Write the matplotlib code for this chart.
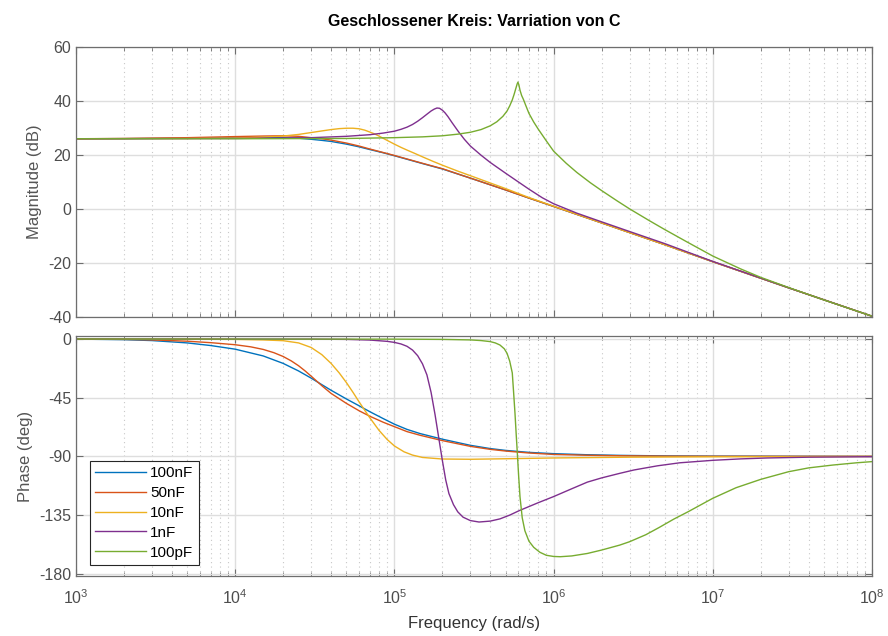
import numpy as np
import matplotlib
matplotlib.use('Agg')
import matplotlib.pyplot as plt
from matplotlib.ticker import LogLocator, NullFormatter

plt.rcParams['font.family'] = ['Liberation Sans', 'DejaVu Sans']
plt.rcParams['mathtext.default'] = 'regular'
plt.rcParams['axes.unicode_minus'] = False

# values (frequency in rad/s)
labels = ['100nF', '50nF', '10nF', '1nF', '100pF']
colors = ['#0072BD', '#D95319', '#EDB120', '#7E2F8E', '#77AC30']

# magnitude (dB)
w_mag_100n = [1e3, 2e3, 5e3, 1e4, 1.5e4, 2e4, 2.5e4, 3e4, 3.5e4, 4e4, 5e4, 6e4, 7e4, 8.5e4, 1e5, 1.5e5, 2e5, 3e5, 5e5, 7e5,
              1e6, 2e6, 3e6, 5e6, 1e7, 3e7, 1e8]
mag_100n = [26.0, 26.05, 26.2, 26.4, 26.5, 26.4, 26.2, 25.8, 25.4, 25.0, 24.0, 23.0, 22.0, 20.8, 19.7, 16.8, 14.8, 11.4, 7.0, 4.0,
            0.9, -5.2, -8.8, -13.3, -19.6, -29.3, -39.8]
w_mag_50n = w_mag_100n
mag_50n = [26.0, 26.1, 26.4, 26.8, 27.0, 27.1, 26.9, 26.4, 26.0, 25.5, 24.4, 23.3, 22.2, 20.9, 19.8, 16.9, 14.9, 11.4, 7.0, 4.0,
           0.9, -5.2, -8.8, -13.3, -19.6, -29.3, -39.8]
w_mag_10n = [1e3, 5e3, 1e4, 1.5e4, 2e4, 2.5e4, 3e4, 3.5e4, 4e4, 4.5e4, 5e4, 5.5e4, 6e4, 6.5e4, 7e4, 7.5e4, 8e4, 9e4, 1e5,
             1.1e5, 1.2e5, 1.35e5, 1.5e5, 1.75e5, 2e5, 2.5e5, 3e5, 4e5, 5e5, 7e5, 1e6, 2e6, 3e6, 5e6, 1e7, 3e7, 1e8]
mag_10n = [26.0, 26.1, 26.3, 26.6, 27.0, 27.6, 28.3, 28.9, 29.4, 29.75, 29.9, 29.9, 29.7, 29.2, 28.5, 27.8, 27.0, 25.4, 24.0,
           22.8, 21.8, 20.5, 19.3, 17.6, 16.2, 14.0, 12.3, 9.6, 7.5, 4.2, 1.0, -5.2, -8.8, -13.3, -19.6, -29.3, -39.8]
w_mag_1n = [1e3, 1e4, 3e4, 5e4, 7e4, 8.5e4, 1e5, 1.1e5, 1.2e5, 1.3e5, 1.4e5, 1.5e5, 1.6e5, 1.7e5, 1.78e5, 1.85e5, 1.92e5, 2e5,
            2.08e5, 2.17e5, 2.3e5, 2.52e5, 2.75e5, 3e5, 3.5e5, 4e5, 5e5, 6e5, 7e5, 8.5e5, 1e6, 1.4e6, 2e6, 3e6, 5e6, 1e7, 3e7, 1e8]
mag_1n = [26.0, 26.1, 26.4, 26.9, 27.5, 28.1, 28.8, 29.5, 30.3, 31.3, 32.5, 33.8, 35.1, 36.3, 37.0, 37.4, 37.3, 36.6,
          35.6, 34.2, 32.0, 28.7, 25.8, 23.3, 19.9, 17.2, 13.2, 10.0, 7.3, 4.1, 1.9, -1.6, -4.8, -8.4, -12.9, -19.5, -29.3, -39.8]
w_mag_100p = [1e3, 1e4, 5e4, 1e5, 1.5e5, 2e5, 2.5e5, 3e5, 3.5e5, 4e5, 4.4e5, 4.8e5, 5.1e5, 5.3e5, 5.5e5, 5.65e5, 5.8e5, 5.9e5,
              5.97e5, 6.05e5, 6.15e5, 6.3e5, 6.46e5, 6.7e5, 7e5, 7.5e5, 8e5, 9e5, 1e6, 1.2e6, 1.4e6, 1.7e6, 2e6, 2.5e6, 3e6,
              4e6, 5e6, 7e6, 1e7, 1.5e7, 2e7, 3e7, 5e7, 1e8]
mag_100p = [26.0, 26.0, 26.1, 26.4, 26.7, 27.1, 27.7, 28.4, 29.4, 30.8, 32.3, 34.3, 36.3, 38.2, 40.4, 42.5, 44.8, 46.3,
            47.0, 46.0, 44.0, 42.0, 40.6, 38.2, 35.4, 32.2, 29.6, 25.2, 21.4, 16.9, 13.5, 9.7, 6.8, 3.0, 0.0,
            -4.4, -7.7, -12.5, -17.5, -22.3, -25.4, -29.2, -33.8, -39.8]

# phase (deg)
w_ph_100n = [1e3, 2e3, 3e3, 5e3, 7e3, 1e4, 1.5e4, 2e4, 2.5e4, 3e4, 3.5e4, 4e4, 5e4, 6e4, 7e4, 8.5e4, 1e5, 1.2e5, 1.45e5,
             2e5, 3e5, 4e5, 5e5, 7e5, 1e6, 1.6e6, 2.6e6, 5e6, 1e7, 1e8]
ph_100n = [-0.1, -0.5, -1.2, -3.0, -5.0, -7.8, -13.0, -18.7, -24.5, -30.0, -35.0, -39.3, -46.0, -51.2, -55.7, -61.0, -65.3,
           -69.3, -72.5, -76.8, -81.5, -84.0, -85.4, -86.9, -87.9, -88.7, -89.2, -89.6, -89.8, -90.0]
w_ph_50n = [1e3, 2e3, 3e3, 5e3, 7e3, 1e4, 1.25e4, 1.5e4, 1.75e4, 2e4, 2.25e4, 2.5e4, 2.75e4, 3e4, 3.5e4, 4e4, 5e4, 6e4, 7e4,
            8.5e4, 1e5, 1.2e5, 1.45e5, 2e5, 3e5, 4e5, 5e5, 7e5, 1e6, 1.6e6, 2.6e6, 5e6, 1e7, 1e8]
ph_50n = [-0.1, -0.3, -0.7, -1.7, -2.8, -4.4, -6.0, -8.0, -10.5, -13.4, -16.8, -20.5, -24.5, -28.5, -35.8, -41.7, -49.4,
          -55.0, -59.2, -63.8, -67.2, -71.0, -73.8, -77.9, -82.3, -84.6, -85.9, -87.4, -88.5, -89.1, -89.5, -89.8, -89.9, -90.0]
w_ph_10n = [1e3, 5e3, 1e4, 1.5e4, 2e4, 2.5e4, 3e4, 3.5e4, 4e4, 4.5e4, 5e4, 5.5e4, 6e4, 6.5e4, 7e4, 8e4, 9e4, 1e5, 1.15e5,
            1.3e5, 1.5e5, 2e5, 3e5, 5e5, 1e6, 3e6, 1e7, 1e8]
ph_10n = [0.0, -0.1, -0.3, -0.7, -1.3, -3.0, -6.5, -12.0, -18.7, -26.0, -33.5, -41.0, -48.2, -54.5, -60.3, -70.0, -77.0,
          -82.0, -86.5, -89.0, -90.8, -92.0, -92.2, -91.8, -91.2, -90.6, -90.3, -90.0]
w_ph_1n = [1e3, 3e4, 5e4, 7e4, 9e4, 1e5, 1.1e5, 1.2e5, 1.3e5, 1.4e5, 1.5e5, 1.6e5, 1.7e5, 1.8e5, 1.9e5, 2e5, 2.1e5, 2.2e5,
           2.35e5, 2.5e5, 2.7e5, 3e5, 3.4e5, 4e5, 4.6e5, 5.3e5, 6.1e5, 8e5, 1e6, 1.3e6, 1.63e6, 2e6, 2.6e6, 3.2e6, 4.5e6,
           6.2e6, 1e7, 1.5e7, 2.2e7, 4e7, 1e8]
ph_1n = [0.0, -0.1, -0.3, -0.8, -1.8, -2.6, -3.8, -5.6, -8.5, -12.8, -19.0, -27.5, -41.0, -58.0, -76.0, -93.0, -108.0,
         -118.5, -127.0, -132.5, -136.6, -139.2, -140.3, -139.6, -137.9, -135.0, -131.5, -125.5, -120.8, -114.8, -109.7,
         -106.5, -103.0, -100.4, -97.2, -94.9, -93.0, -91.9, -91.2, -90.6, -90.2]
w_ph_100p = [1e3, 1e5, 2e5, 3e5, 3.5e5, 4e5, 4.3e5, 4.6e5, 4.9e5, 5.1e5, 5.3e5, 5.5e5, 5.6e5, 5.72e5, 5.82e5, 5.92e5,
             6.03e5, 6.15e5, 6.35e5, 6.6e5, 7e5, 7.5e5, 8.2e5, 9e5, 1e6, 1.1e6, 1.3e6, 1.63e6, 2e6, 2.6e6, 3e6, 3.8e6,
             4.6e6, 5.7e6, 7e6, 1e7, 1.4e7, 2e7, 3e7, 4e7, 5.7e7, 8e7, 1e8]
ph_100p = [0.0, -0.1, -0.3, -0.7, -1.2, -2.0, -3.0, -4.6, -7.5, -11.0, -17.0, -26.0, -40.0, -57.0, -73.0, -88.0,
           -105.0, -121.0, -137.0, -147.0, -155.0, -159.7, -163.5, -165.8, -166.7, -166.9, -166.3, -164.4, -161.8,
           -158.0, -155.4, -150.0, -144.5, -138.0, -132.4, -122.1, -114.0, -107.6, -101.7, -98.8, -96.6, -94.9, -94.0]

mags = [(w_mag_100n, mag_100n), (w_mag_50n, mag_50n), (w_mag_10n, mag_10n), (w_mag_1n, mag_1n), (w_mag_100p, mag_100p)]
phases = [(w_ph_100n, ph_100n), (w_ph_50n, ph_50n), (w_ph_10n, ph_10n), (w_ph_1n, ph_1n), (w_ph_100p, ph_100p)]

fig = plt.figure(figsize=(8.88, 6.36), dpi=100)
ax1 = fig.add_axes([0.0856, 0.502, 0.8964, 0.424])
ax2 = fig.add_axes([0.0856, 0.0943, 0.8964, 0.3774])

for (w, m), (wp, p), c, lab in zip(mags, phases, colors, labels):
    ax1.semilogx(w, m, color=c, lw=1.0)
    ax2.semilogx(wp, p, color=c, lw=1.0, label=lab)

axis_col = '#6e6e6e'
for ax in (ax1, ax2):
    ax.set_xlim(1e3, 1e8)
    ax.xaxis.set_major_locator(LogLocator(base=10, numticks=10))
    ax.xaxis.set_minor_locator(LogLocator(base=10, subs=np.arange(2, 10), numticks=100))
    ax.xaxis.set_minor_formatter(NullFormatter())
    ax.grid(True, which='major', color='#dedede', lw=1.0)
    ax.grid(True, which='minor', axis='x', color='#c8c8c8', lw=0.8, ls=(0, (1, 3)))
    ax.set_axisbelow(True)
    ax.tick_params(which='both', direction='in', top=True, right=True, colors=axis_col, labelcolor='#4d4d4d', labelsize=11.5)
    ax.tick_params(which='major', length=5)
    ax.tick_params(which='minor', length=3)
    ax.tick_params(axis='x', pad=9)
    for s in ax.spines.values():
        s.set_color(axis_col)
        s.set_linewidth(0.9)

ax1.set_ylim(-40, 60)
ax1.set_yticks([-40, -20, 0, 20, 40, 60])
ax1.tick_params(labelbottom=False)
ax1.set_ylabel('Magnitude (dB)', fontsize=12, color='#555555')
ax1.set_title('Geschlossener Kreis: Varriation von C', fontsize=11.5, fontweight='bold', pad=15)

ax2.set_ylim(-181.7, 2.3)
ax2.set_yticks([-180, -135, -90, -45, 0])
ax2.set_ylabel('Phase (deg)', fontsize=12, color='#555555')
ax2.set_xlabel('Frequency (rad/s)', fontsize=12, color='#333333', labelpad=6)

leg = ax2.legend(loc='lower left', bbox_to_anchor=(0.0176, 0.046), borderaxespad=0,
                 fontsize=11, fancybox=False, framealpha=1, edgecolor='#262626',
                 handlelength=3.3, handletextpad=0.3, labelspacing=0.38, borderpad=0.35)
leg.get_frame().set_linewidth(0.8)

fig.savefig('out.png', dpi=100)
